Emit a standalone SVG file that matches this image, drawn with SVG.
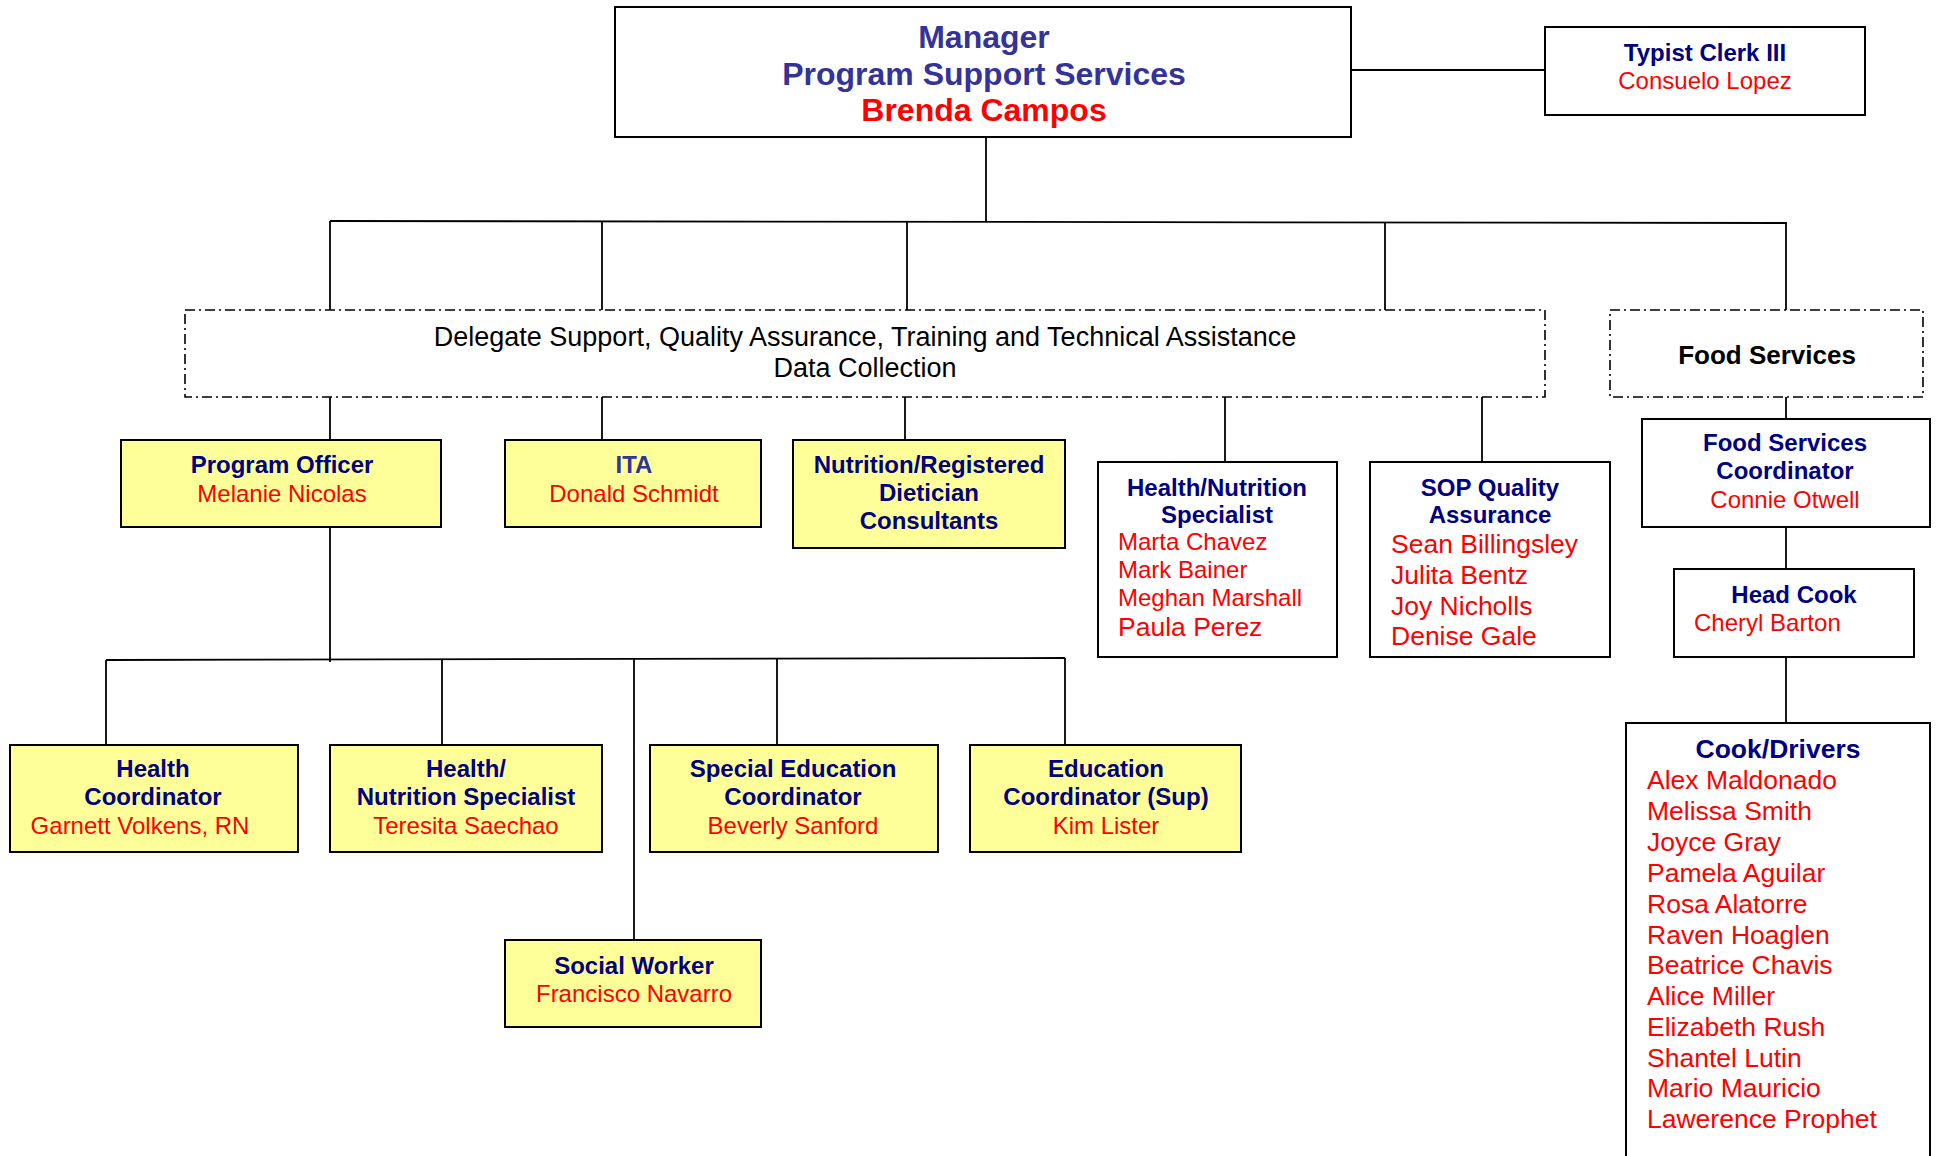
<svg xmlns="http://www.w3.org/2000/svg" width="1937" height="1156" viewBox="0 0 1937 1156">
<style>
text{font-family:"Liberation Sans",Arial,sans-serif;text-anchor:middle}
.b{font-weight:bold}
.t{fill:#000080;font-weight:bold;font-size:24px}
.p{fill:#333399;font-weight:bold}
.n{fill:#FF0000;font-size:24px}
.L{fill:#FF0000;font-size:26.5px;text-anchor:start}
.s{text-anchor:start}
.box{fill:#FFFFFF;stroke:#000;stroke-width:2}
.y{fill:#FFFF99;stroke:#000;stroke-width:2}
.d{fill:#FFFFFF;stroke:#000;stroke-width:1.6;stroke-dasharray:10 4 2 4}
.c line{stroke:#000;stroke-width:1.8}
</style>
<rect width="1937" height="1156" fill="#FFFFFF"/>
<g class="c" id="connectors">
<line x1="1351" y1="70" x2="1545" y2="70"/>
<line x1="986" y1="137" x2="986" y2="222"/>
<line x1="330" y1="221" x2="1787" y2="223"/>
<line x1="330" y1="221" x2="330" y2="310"/>
<line x1="602" y1="221" x2="602" y2="310"/>
<line x1="907" y1="222" x2="907" y2="310"/>
<line x1="1385" y1="222" x2="1385" y2="310"/>
<line x1="1786" y1="223" x2="1786" y2="310"/>
<line x1="330" y1="397" x2="330" y2="440"/>
<line x1="602" y1="397" x2="602" y2="440"/>
<line x1="905" y1="397" x2="905" y2="440"/>
<line x1="1225" y1="397" x2="1225" y2="462"/>
<line x1="1482" y1="397" x2="1482" y2="462"/>
<line x1="1786" y1="397" x2="1786" y2="419"/>
<line x1="1786" y1="527" x2="1786" y2="569"/>
<line x1="1786" y1="657" x2="1786" y2="723"/>
<line x1="330" y1="527" x2="330" y2="662"/>
<line x1="106" y1="660" x2="1065" y2="658"/>
<line x1="106" y1="660" x2="106" y2="745"/>
<line x1="442" y1="659" x2="442" y2="745"/>
<line x1="634" y1="659" x2="634" y2="940"/>
<line x1="777" y1="659" x2="777" y2="745"/>
<line x1="1065" y1="658" x2="1065" y2="745"/>
</g>
<g id="manager">
<rect class="box" x="615" y="7" width="736" height="130"/>
<text class="p" x="984" y="48" font-size="32">Manager</text>
<text class="p" x="984" y="85" font-size="32">Program Support Services</text>
<text class="b" x="984" y="121" font-size="32" fill="#FF0000">Brenda Campos</text>
</g>
<g id="typist">
<rect class="box" x="1545" y="27" width="320" height="88"/>
<text class="t" x="1705" y="61">Typist Clerk III</text>
<text class="n" x="1705" y="89">Consuelo Lopez</text>
</g>
<g id="delegate">
<rect class="d" x="185" y="310" width="1360" height="87"/>
<text x="865" y="346" font-size="27">Delegate Support, Quality Assurance, Training and Technical Assistance</text>
<text x="865" y="377" font-size="27">Data Collection</text>
</g>
<g id="foodservices">
<rect class="d" x="1610" y="310" width="313" height="87"/>
<text class="b" x="1767" y="364" font-size="26">Food Services</text>
</g>
<g id="programofficer">
<rect class="y" x="121" y="440" width="320" height="87"/>
<text class="t" x="282" y="473">Program Officer</text>
<text class="n" x="282" y="502">Melanie Nicolas</text>
</g>
<g id="ita">
<rect class="y" x="505" y="440" width="256" height="87"/>
<text class="p" x="634" y="473" font-size="24">ITA</text>
<text class="n" x="634" y="502">Donald Schmidt</text>
</g>
<g id="nutrition">
<rect class="y" x="793" y="440" width="272" height="108"/>
<text class="t" x="929" y="473">Nutrition/Registered</text>
<text class="t" x="929" y="501">Dietician</text>
<text class="t" x="929" y="529">Consultants</text>
</g>
<g id="hnspecialist">
<rect class="box" x="1098" y="462" width="239" height="195"/>
<text class="t" x="1217" y="496">Health/Nutrition</text>
<text class="t" x="1217" y="523">Specialist</text>
<text class="n s" x="1118" y="550">Marta Chavez</text>
<text class="n s" x="1118" y="578">Mark Bainer</text>
<text class="n s" x="1118" y="606">Meghan Marshall</text>
<text class="L" x="1118" y="636">Paula Perez</text>
</g>
<g id="sop">
<rect class="box" x="1370" y="462" width="240" height="195"/>
<text class="t" x="1490" y="496">SOP Quality</text>
<text class="t" x="1490" y="523">Assurance</text>
<text class="L" x="1391" y="553">Sean Billingsley</text>
<text class="L" x="1391" y="584">Julita Bentz</text>
<text class="L" x="1391" y="615">Joy Nicholls</text>
<text class="L" x="1391" y="645">Denise Gale</text>
</g>
<g id="fscoordinator">
<rect class="box" x="1642" y="419" width="288" height="108"/>
<text class="t" x="1785" y="451">Food Services</text>
<text class="t" x="1785" y="479">Coordinator</text>
<text class="n" x="1785" y="508">Connie Otwell</text>
</g>
<g id="headcook">
<rect class="box" x="1674" y="569" width="240" height="88"/>
<text class="t" x="1794" y="603">Head Cook</text>
<text class="n s" x="1694" y="631">Cheryl Barton</text>
</g>
<g id="cookdrivers">
<rect class="box" x="1626" y="723" width="304" height="450"/>
<text class="t" x="1778" y="758" style="font-size:26.5px">Cook/Drivers</text>
<text class="L" x="1647" y="789">Alex Maldonado</text>
<text class="L" x="1647" y="820">Melissa Smith</text>
<text class="L" x="1647" y="851">Joyce Gray</text>
<text class="L" x="1647" y="882">Pamela Aguilar</text>
<text class="L" x="1647" y="913">Rosa Alatorre</text>
<text class="L" x="1647" y="944">Raven Hoaglen</text>
<text class="L" x="1647" y="974">Beatrice Chavis</text>
<text class="L" x="1647" y="1005">Alice Miller</text>
<text class="L" x="1647" y="1036">Elizabeth Rush</text>
<text class="L" x="1647" y="1067">Shantel Lutin</text>
<text class="L" x="1647" y="1097">Mario Mauricio</text>
<text class="L" x="1647" y="1128">Lawerence Prophet</text>
</g>
<g id="healthcoord">
<rect class="y" x="10" y="745" width="288" height="107"/>
<text class="t" x="153" y="777">Health</text>
<text class="t" x="153" y="805">Coordinator</text>
<text class="n" x="140" y="834">Garnett Volkens, RN</text>
</g>
<g id="hnspec2">
<rect class="y" x="330" y="745" width="272" height="107"/>
<text class="t" x="466" y="777">Health/</text>
<text class="t" x="466" y="805">Nutrition Specialist</text>
<text class="n" x="466" y="834">Teresita Saechao</text>
</g>
<g id="specialed">
<rect class="y" x="650" y="745" width="288" height="107"/>
<text class="t" x="793" y="777">Special Education</text>
<text class="t" x="793" y="805">Coordinator</text>
<text class="n" x="793" y="834">Beverly Sanford</text>
</g>
<g id="educoord">
<rect class="y" x="970" y="745" width="271" height="107"/>
<text class="t" x="1106" y="777">Education</text>
<text class="t" x="1106" y="805">Coordinator (Sup)</text>
<text class="n" x="1106" y="834">Kim Lister</text>
</g>
<g id="socialworker">
<rect class="y" x="505" y="940" width="256" height="87"/>
<text class="t" x="634" y="974">Social Worker</text>
<text class="n" x="634" y="1002">Francisco Navarro</text>
</g>
</svg>
